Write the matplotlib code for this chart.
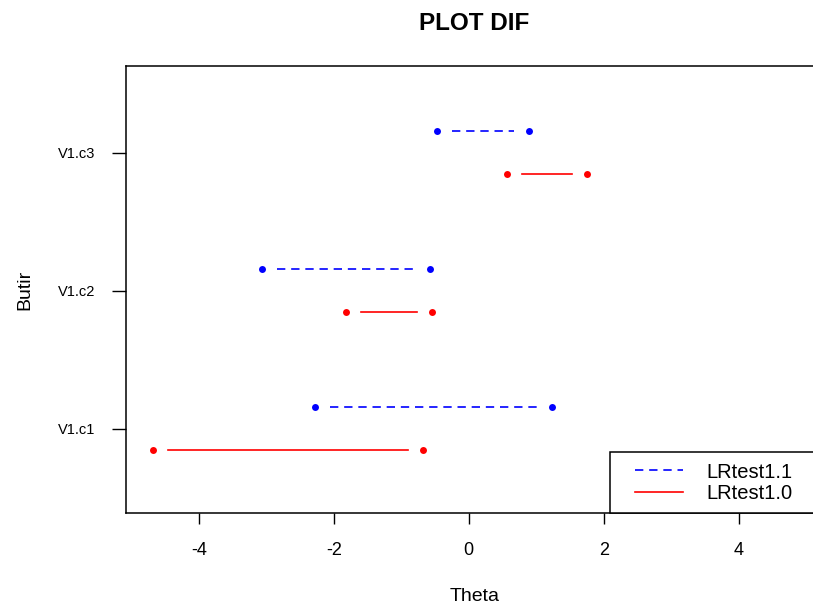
import matplotlib
matplotlib.use("Agg")
import matplotlib.pyplot as plt
from matplotlib.lines import Line2D
from matplotlib.legend_handler import HandlerLine2D

plt.rcParams['font.family'] = ['Liberation Sans', 'DejaVu Sans']

items = ["V1.c1", "V1.c2", "V1.c3"]
# LRtest1.1 (blue, dashed) interval endpoints
blue_lo = [-2.28, -3.07, -0.47]
blue_hi = [1.24, -0.58, 0.89]
# LRtest1.0 (red, solid) interval endpoints
red_lo = [-4.68, -1.82, 0.56]
red_hi = [-0.68, -0.55, 1.75]
xticks = [-4, -2, 0, 2, 4]

W, H = 813, 606
fig = plt.figure(figsize=(W / 100, H / 100), dpi=100)
ax_l, ax_r, ax_t, ax_b = 126, 823, 66, 513
ax = fig.add_axes([ax_l / W, (H - ax_b) / H, (ax_r - ax_l) / W, (ax_b - ax_t) / H])
ax.set_xlim(-5.08, 5.25)
ax.set_ylim(0.39, 3.63)

ypos = [1, 2, 3]
off_b, off_r = 0.16, -0.15

# pixel scale for R-style gaps between points and line (type="b")
p0 = ax.transData.transform((0, 0))
p1 = ax.transData.transform((1, 0))
ppu = p1[0] - p0[0]
gap = 15 / ppu

for y, lo, hi in zip(ypos, blue_lo, blue_hi):
    yy = y + off_b
    ax.plot([lo + gap, hi - gap], [yy, yy], color='#0000FF', lw=1.2,
            linestyle=(0, (5, 3.5)))
    ax.plot([lo, hi], [yy, yy], 'o', color='#0000FF', ms=5, mec='none')
for y, lo, hi in zip(ypos, red_lo, red_hi):
    yy = y + off_r
    ax.plot([lo + gap, hi - gap], [yy, yy], color='#FF0000', lw=1.2)
    ax.plot([lo, hi], [yy, yy], 'o', color='#FF0000', ms=5, mec='none')

ax.set_xticks(xticks)
ax.set_xticklabels([str(v) for v in xticks])
ax.set_yticks(ypos)
ax.set_yticklabels(items)
ax.tick_params(axis='x', labelsize=13, length=8, width=1, pad=13, colors='black')
ax.tick_params(axis='y', labelsize=10.5, length=10, width=1, pad=12, colors='black')
for s in ax.spines.values():
    s.set_linewidth(1.1)

ax.set_title("PLOT DIF", fontsize=17.5, fontweight='bold', pad=26)
ax.set_xlabel("Theta", fontsize=14, labelpad=21)
ax.set_ylabel("Butir", fontsize=14, labelpad=18)

handles = [Line2D([], [], color='#0000FF', lw=1.2, linestyle=(0, (5, 3.5))),
           Line2D([], [], color='#FF0000', lw=1.2)]
x0 = (610 - ax_l) / (ax_r - ax_l)
leg = ax.legend(handles, ["LRtest1.1", "LRtest1.0"], loc='lower left',
                bbox_to_anchor=(x0, 0, 1 - x0, 0.1), mode='expand',
                borderaxespad=0, fancybox=False, edgecolor='black',
                fontsize=14.5, handlelength=3.1, handletextpad=1.2,
                borderpad=0.5, labelspacing=0.12, framealpha=1,
                handler_map={Line2D: HandlerLine2D(xpad=0.75)})
leg.get_frame().set_linewidth(1.1)

fig.savefig("out.png", dpi=100)
